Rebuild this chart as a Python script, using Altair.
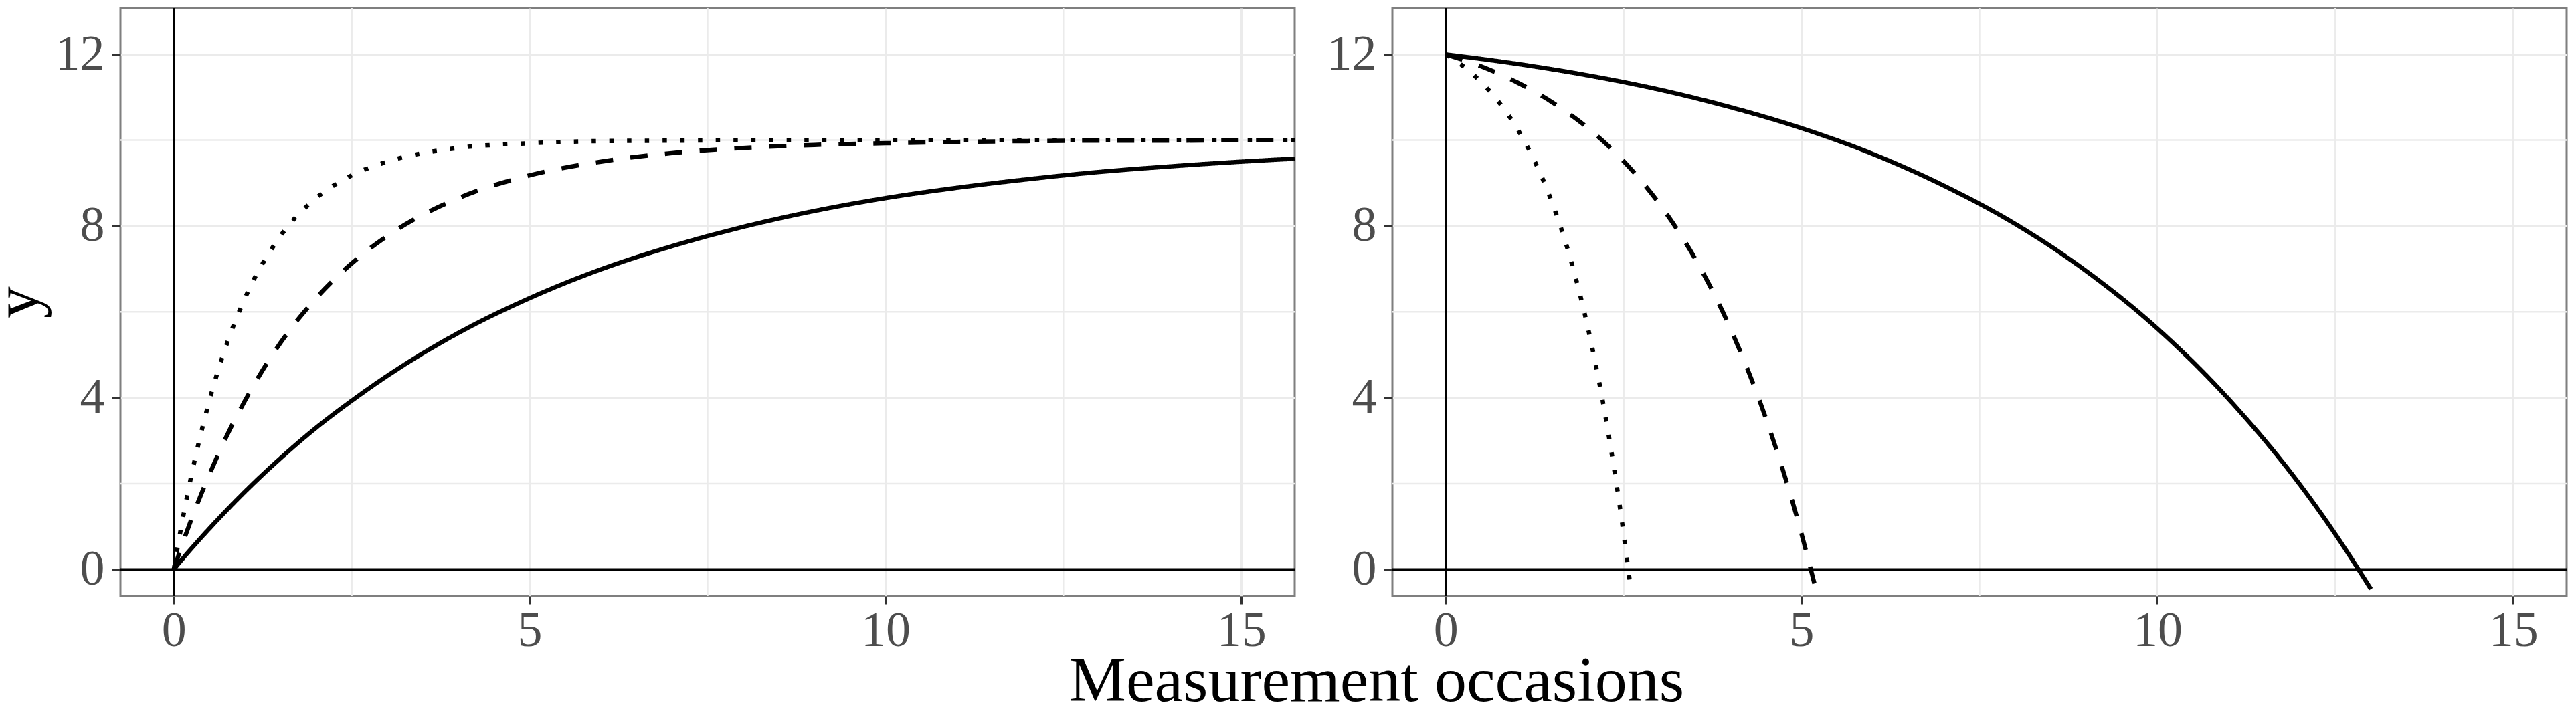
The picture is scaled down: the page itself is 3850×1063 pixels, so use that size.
import altair as alt
import pandas as pd

# ---------------- data ----------------
# Left panel: growth curves approaching 10
left_t = [0, 0.1, 0.25, 0.5, 0.75, 1, 1.5, 2, 2.5, 3, 4, 5, 6, 7, 8, 9, 10, 11, 12, 13, 14, 15, 15.75]
left_solid = [0, 0.20, 0.49, 0.95, 1.39, 1.81, 2.59, 3.30, 3.93, 4.51, 5.51, 6.32, 6.99, 7.53, 7.98,
              8.35, 8.65, 8.89, 9.09, 9.26, 9.39, 9.50, 9.57]
left_dashed = [0, 0.49, 1.18, 2.21, 3.13, 3.93, 5.28, 6.32, 7.13, 7.77, 8.65, 9.18, 9.50, 9.70, 9.82,
               9.89, 9.93, 9.96, 9.98, 9.99, 9.99, 10.0, 10.0]
left_dotted = [0, 0.95, 2.21, 3.93, 5.28, 6.32, 7.77, 8.65, 9.18, 9.50, 9.82, 9.93, 9.98, 9.99, 10.0,
               10.0, 10.0, 10.0, 10.0, 10.0, 10.0, 10.0, 10.0]

# Right panel: accelerating decline from 12
right_solid_t = [0, 1, 2, 3, 4, 5, 6, 7, 8, 9, 10, 11, 12, 12.5, 13]
right_solid = [12, 11.78, 11.51, 11.18, 10.77, 10.28, 9.68, 8.94, 8.05, 6.95, 5.61, 3.97, 1.98, 0.82, -0.46]
right_dashed_t = [0, 0.5, 1, 1.5, 2, 2.5, 3, 3.5, 4, 4.5, 5, 5.18]
right_dashed = [12, 11.72, 11.35, 10.88, 10.28, 9.51, 8.52, 7.25, 5.61, 3.51, 0.82, -0.33]
right_dotted_t = [0, 0.25, 0.5, 0.75, 1, 1.25, 1.5, 1.75, 2, 2.25, 2.5, 2.59]
right_dotted = [12, 11.72, 11.35, 10.88, 10.28, 9.51, 8.52, 7.25, 5.61, 3.51, 0.82, -0.33]

x_ticks = [0, 5, 10, 15]
y_ticks = [0, 4, 8, 12]
minor_x = [2.5, 7.5, 12.5]
minor_y = [2, 6, 10]
series_order = ["solid", "dashed", "dotted"]

x_domain = [-0.75, 15.75]
y_domain = [-0.62, 13.08]

# ---------------- build tables ----------------
def long_table(parts):
    rows = []
    for name, ts, ys in parts:
        for t, y in zip(ts, ys):
            rows.append({"t": t, "y": y, "series": name})
    return pd.DataFrame(rows)

left_df = long_table([("solid", left_t, left_solid),
                      ("dashed", left_t, left_dashed),
                      ("dotted", left_t, left_dotted)])
right_df = long_table([("solid", right_solid_t, right_solid),
                       ("dashed", right_dashed_t, right_dashed),
                       ("dotted", right_dotted_t, right_dotted)])

FONT = "Liberation Serif"
xscale = alt.Scale(domain=x_domain, nice=False, zero=False)
yscale = alt.Scale(domain=y_domain, nice=False, zero=False)

GRID = "#EBEBEB"


def panel(df, y_title):
    xaxis = alt.Axis(values=x_ticks, title=None, grid=True, gridColor=GRID, gridWidth=3,
                     domain=False, tickSize=12, tickWidth=3, tickColor="#333333",
                     labelFont=FONT, labelFontSize=74, labelColor="#4D4D4D",
                     labelPadding=4, labelFlush=False, format="d")
    yaxis_kw = dict(values=y_ticks, grid=True, gridColor=GRID, gridWidth=3,
                    domain=False, tickSize=13, tickWidth=3, tickColor="#333333",
                    labelFont=FONT, labelFontSize=74, labelColor="#4D4D4D",
                    labelPadding=11, format="d", minExtent=98, maxExtent=98)
    if y_title:
        yaxis = alt.Axis(title=y_title, titleFont=FONT, titleFontSize=96,
                         titleFontWeight="normal", titleColor="black", titlePadding=6,
                         **yaxis_kw)
    else:
        yaxis = alt.Axis(title=None, **yaxis_kw)

    X = lambda: alt.X("t:Q", scale=xscale, axis=xaxis)
    Y = lambda: alt.Y("y:Q", scale=yscale, axis=yaxis)

    minor_v = alt.Chart(pd.DataFrame({"t": minor_x})).mark_rule(
        color=GRID, strokeWidth=2.5).encode(x=X())
    minor_h = alt.Chart(pd.DataFrame({"y": minor_y})).mark_rule(
        color=GRID, strokeWidth=2.5).encode(y=Y())
    zero_h = alt.Chart(pd.DataFrame({"y": [0]})).mark_rule(
        color="black", strokeWidth=3.5).encode(y=Y())
    zero_v = alt.Chart(pd.DataFrame({"t": [0]})).mark_rule(
        color="black", strokeWidth=3.5).encode(x=X())
    lines = alt.Chart(df).mark_line(color="black", strokeWidth=6.5, interpolate="monotone",
                                    clip=True).encode(
        x=X(),
        y=Y(),
        strokeDash=alt.StrokeDash("series:N",
                                  scale=alt.Scale(domain=series_order,
                                                  range=[[1, 0], [26, 26], [6.5, 20]]),
                                  legend=None),
        detail="series:N",
    )
    return alt.layer(minor_v, minor_h, zero_h, zero_v, lines).properties(width=1755, height=879)


left = panel(left_df, "y")
right = panel(right_df, None)

chart = alt.hconcat(left, right, spacing=42).properties(
    padding={"left": -31, "top": 0, "right": 0, "bottom": 0},
    title=alt.TitleParams("Measurement occasions", orient="bottom", anchor="middle",
                          font=FONT, fontSize=96, fontWeight="normal", color="black",
                          offset=-10, dx=149),
).configure_view(stroke="#7F7F7F", strokeWidth=3)

chart.save("out.html", embed_options={"renderer": "svg", "actions": False})
